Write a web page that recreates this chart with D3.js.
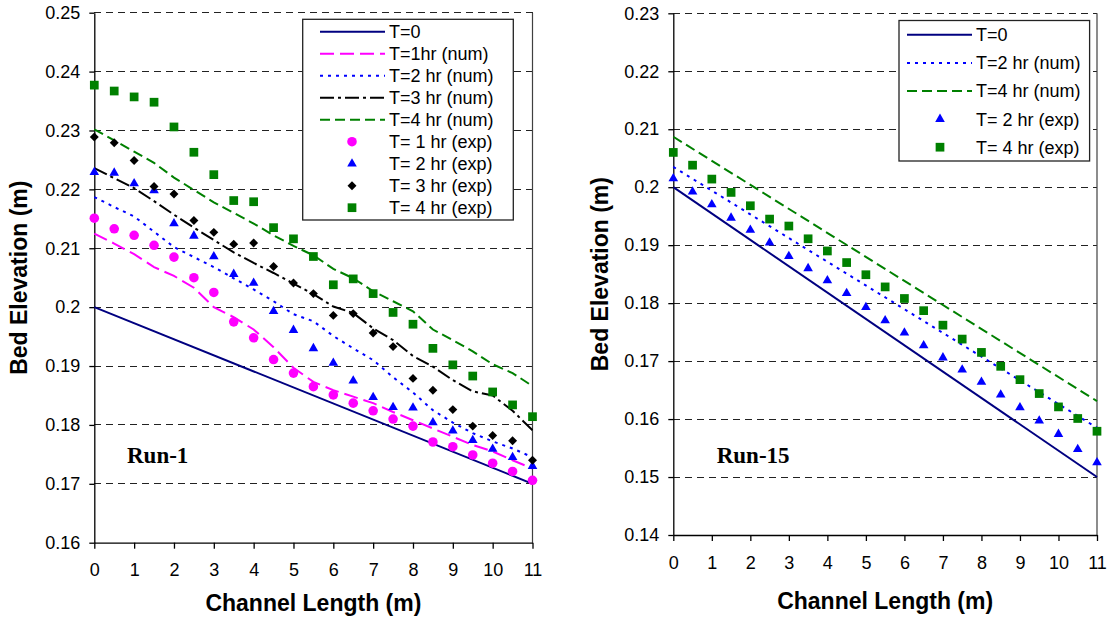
<!DOCTYPE html>
<html lang="en">
<head>
<meta charset="UTF-8">
<title>Bed Elevation - Run-1 and Run-15</title>
<script src="https://d3js.org/d3.v7.min.js"></script>
<style>
  body { margin: 0; background: #fff; }
  svg text { font-family: 'Liberation Sans', Arial, sans-serif; fill: #000; }
</style>
</head>
<body>
<svg id="chart" width="1107" height="619"></svg>
<script>
// measuring stations along the channel (m)
const stations = [0, 0.5, 1, 1.5, 2, 2.5, 3, 3.5, 4, 4.5, 5, 5.5, 6, 6.5, 7, 7.5, 8, 8.5, 9, 9.5, 10, 10.5, 11];
const xTicks = [0, 1, 2, 3, 4, 5, 6, 7, 8, 9, 10, 11];

// ---- Run-1 ----
const run1YTicks = [0.16, 0.17, 0.18, 0.19, 0.20, 0.21, 0.22, 0.23, 0.24, 0.25];
const run1T0x = [0, 11];
const run1T0 = [0.200, 0.170];
const run1Num1 = [0.2125, 0.2108, 0.2090, 0.2068, 0.2053, 0.2033, 0.2000, 0.1983, 0.1962, 0.1932, 0.1897, 0.1873,
                  0.1859, 0.1848, 0.1837, 0.1822, 0.1808, 0.1794, 0.1780, 0.1766, 0.1755, 0.1740, 0.1726];
const run1Num2 = [0.2187, 0.2170, 0.2154, 0.2128, 0.2102, 0.2085, 0.2068, 0.2049, 0.2030, 0.2010, 0.1988, 0.1976,
                  0.1951, 0.1930, 0.1910, 0.1881, 0.1855, 0.1825, 0.1804, 0.1786, 0.1772, 0.1760, 0.1745];
const run1Num3 = [0.2236, 0.2219, 0.2202, 0.2180, 0.2157, 0.2135, 0.2114, 0.2093, 0.2075, 0.2058, 0.2040, 0.2022,
                  0.2001, 0.1990, 0.1964, 0.1944, 0.1917, 0.1899, 0.1876, 0.1857, 0.1850, 0.1824, 0.1791];
const run1Num4 = [0.2302, 0.2283, 0.2264, 0.2245, 0.2220, 0.2199, 0.2178, 0.2160, 0.2142, 0.2122, 0.2104, 0.2088,
                  0.2065, 0.2049, 0.2027, 0.2010, 0.1993, 0.1962, 0.1944, 0.1925, 0.1903, 0.1888, 0.1866];
const run1Exp1 = [0.2151, 0.2133, 0.2122, 0.2105, 0.2085, 0.2050, 0.2025, 0.1975, 0.1948, 0.1911, 0.1888, 0.1865,
                  0.1851, 0.1837, 0.1824, 0.1810, 0.1798, 0.1771, 0.1763, 0.1749, 0.1735, 0.1721, 0.1706];
const run1Exp2 = [0.2229, 0.2228, 0.2210, 0.2198, 0.2142, 0.2121, 0.2086, 0.2056, 0.2041, 0.1993, 0.1961, 0.1930,
                  0.1905, 0.1875, 0.1847, 0.1830, 0.1829, 0.1804, 0.1790, 0.1774, 0.1759, 0.1745, 0.1730];
const run1Exp3 = [0.2289, 0.2279, 0.2249, 0.2205, 0.2192, 0.2147, 0.2127, 0.2107, 0.2109, 0.2069, 0.2041, 0.2023,
                  0.1986, 0.1989, 0.1956, 0.1933, 0.1879, 0.1859, 0.1826, 0.1798, 0.1782, 0.1773, 0.1740];
const run1Exp4 = [0.2377, 0.2367, 0.2357, 0.2348, 0.2306, 0.2263, 0.2225, 0.2181, 0.2179, 0.2135, 0.2116, 0.2086,
                  0.2038, 0.2048, 0.2023, 0.1991, 0.1971, 0.1930, 0.1902, 0.1883, 0.1856, 0.1834, 0.1814];

// ---- Run-15 ----
const run15YTicks = [0.14, 0.15, 0.16, 0.17, 0.18, 0.19, 0.20, 0.21, 0.22, 0.23];
const run15LineX = [0, 11];
const run15T0 = [0.200, 0.150];
const run15Num2 = [0.2035, 0.1585];
const run15Num4 = [0.2087, 0.1631];
const run15Exp2 = [0.2015, 0.1992, 0.1970, 0.1947, 0.1926, 0.1904, 0.1881, 0.1860, 0.1839, 0.1817, 0.1793, 0.1770,
                   0.1749, 0.1727, 0.1706, 0.1685, 0.1664, 0.1642, 0.1620, 0.1597, 0.1574, 0.1548, 0.1525];
const run15Exp4 = [0.2060, 0.2038, 0.2014, 0.1991, 0.1968, 0.1945, 0.1933, 0.1911, 0.1890, 0.1870, 0.1849, 0.1828,
                   0.1808, 0.1787, 0.1762, 0.1738, 0.1715, 0.1691, 0.1668, 0.1644, 0.1621, 0.1601, 0.1579];

// line and marker styles
const styles = {
  t0:   { color: "#000080", dash: null },
  num1: { color: "#ff00ff", dash: "14,6" },
  num2: { color: "#0000ff", dash: "3,5" },
  num3: { color: "#000000", dash: "14,4,3,4" },
  num4: { color: "#008000", dash: "10,5" },
  exp1: { color: "#ff00ff", shape: "circle" },
  exp2: { color: "#0000ff", shape: "triangle" },
  exp3: { color: "#000000", shape: "diamond" },
  exp4: { color: "#008000", shape: "square" }
};

const svg = d3.select("#chart");

function markerPath(shape) {
  if (shape === "circle") return d3.symbol(d3.symbolCircle, 72)();
  if (shape === "triangle") return d3.symbol(d3.symbolTriangle, 40)();
  if (shape === "diamond") return d3.symbol(d3.symbolSquare, 40)();
  return d3.symbol(d3.symbolSquare, 76)();
}

function drawMarker(g, shape, color, cx, cy) {
  g.append("path")
    .attr("d", markerPath(shape))
    .attr("transform", `translate(${cx},${cy})` + (shape === "diamond" ? " rotate(45)" : ""))
    .attr("fill", color);
}

function drawPanel(p) {
  const x = d3.scaleLinear().domain([0, 11]).range([p.left, p.right]);
  const y = d3.scaleLinear().domain([p.yTicks[0], p.yTicks[p.yTicks.length - 1]]).range([p.bottom, p.top]);
  const g = svg.append("g");

  // dashed gridlines
  g.selectAll("line.grid")
    .data(p.yTicks.slice(1))
    .enter().append("line")
    .attr("x1", p.left).attr("x2", p.right)
    .attr("y1", d => y(d)).attr("y2", d => y(d))
    .attr("stroke", "#222").attr("stroke-width", 1)
    .attr("stroke-dasharray", "7,5")
    .attr("shape-rendering", "crispEdges");

  // right border of plot area
  g.append("line")
    .attr("x1", p.right).attr("x2", p.right)
    .attr("y1", p.top).attr("y2", p.bottom)
    .attr("stroke", "#404040").attr("stroke-width", 1.2);

  // axes
  const xAxis = g.append("g")
    .attr("transform", `translate(0,${p.bottom})`)
    .call(d3.axisBottom(x).tickValues(xTicks).tickSize(6).tickSizeOuter(0).tickPadding(15).tickFormat(d3.format("d")));
  const yAxis = g.append("g")
    .attr("transform", `translate(${p.left},0)`)
    .call(d3.axisLeft(y).tickValues(p.yTicks).tickSize(5).tickSizeOuter(0).tickPadding(9)
      .tickFormat(d => String(+d.toFixed(2))));
  [xAxis, yAxis].forEach(a => {
    a.attr("font-size", 18).attr("font-family", "'Liberation Sans', Arial, sans-serif");
    a.selectAll("path, line").attr("stroke", "#000").attr("stroke-width", 1.3);
  });

  // numerical lines
  const line = d3.line().x(d => x(d[0])).y(d => y(d[1]));
  p.lines.forEach(s => {
    const st = styles[s.style];
    g.append("path")
      .datum(s.xs.map((v, i) => [v, s.ys[i]]))
      .attr("d", line)
      .attr("fill", "none")
      .attr("stroke", st.color)
      .attr("stroke-width", 2)
      .attr("stroke-dasharray", st.dash);
  });

  // experimental points
  p.points.forEach(s => {
    const st = styles[s.style];
    s.ys.forEach((v, i) => drawMarker(g, st.shape, st.color, x(stations[i]), y(v)));
  });

  // run label
  g.append("text")
    .attr("x", p.runX).attr("y", 463)
    .style("font-family", "'Liberation Serif', 'Times New Roman', serif")
    .style("font-weight", "bold").style("font-size", "23px")
    .text(p.run);

  // axis titles
  g.append("text")
    .attr("x", (p.left + p.right) / 2).attr("y", p.xTitleY)
    .attr("text-anchor", "middle")
    .style("font-weight", "bold").style("font-size", "23px")
    .text("Channel Length (m)");
  g.append("text")
    .attr("transform", `translate(${p.yTitleX},${(p.top + p.bottom) / 2}) rotate(-90)`)
    .attr("text-anchor", "middle")
    .style("font-weight", "bold").style("font-size", "23px")
    .text("Bed Elevation (m)");

  // legend
  const L = p.legend;
  const lg = g.append("g");
  lg.append("rect")
    .attr("x", L.x).attr("y", L.y).attr("width", L.w).attr("height", L.h)
    .attr("fill", "#fff").attr("stroke", "#222").attr("stroke-width", 1.3);
  L.items.forEach((it, i) => {
    const cy = L.firstRow + i * L.step;
    const st = styles[it.style];
    if (st.shape) {
      drawMarker(lg, st.shape, st.color, L.markX, cy);
    } else {
      lg.append("line")
        .attr("x1", L.lineX0).attr("x2", L.lineX1)
        .attr("y1", cy).attr("y2", cy)
        .attr("stroke", st.color).attr("stroke-width", 2)
        .attr("stroke-dasharray", st.dash);
    }
    lg.append("text")
      .attr("x", L.textX).attr("y", cy).attr("dy", "0.36em")
      .style("font-size", "18px")
      .text(it.label);
  });
}

drawPanel({
  left: 94.3, right: 532.5, top: 12.7, bottom: 542.7,
  yTicks: run1YTicks,
  lines: [
    { style: "t0", xs: run1T0x, ys: run1T0 },
    { style: "num1", xs: stations, ys: run1Num1 },
    { style: "num2", xs: stations, ys: run1Num2 },
    { style: "num3", xs: stations, ys: run1Num3 },
    { style: "num4", xs: stations, ys: run1Num4 }
  ],
  points: [
    { style: "exp1", ys: run1Exp1 },
    { style: "exp2", ys: run1Exp2 },
    { style: "exp3", ys: run1Exp3 },
    { style: "exp4", ys: run1Exp4 }
  ],
  run: "Run-1", runX: 127,
  xTitleY: 611, yTitleX: 27,
  legend: {
    x: 302.7, y: 19.3, w: 210.6, h: 200.7, firstRow: 31.7, step: 22,
    lineX0: 320, lineX1: 385, markX: 352, textX: 389,
    items: [
      { style: "t0", label: "T=0" },
      { style: "num1", label: "T=1hr (num)" },
      { style: "num2", label: "T=2 hr (num)" },
      { style: "num3", label: "T=3 hr (num)" },
      { style: "num4", label: "T=4 hr (num)" },
      { style: "exp1", label: "T= 1 hr (exp)" },
      { style: "exp2", label: "T= 2 hr (exp)" },
      { style: "exp3", label: "T= 3 hr (exp)" },
      { style: "exp4", label: "T= 4 hr (exp)" }
    ]
  }
});

drawPanel({
  left: 673.3, right: 1097, top: 13.3, bottom: 535,
  yTicks: run15YTicks,
  lines: [
    { style: "t0", xs: run15LineX, ys: run15T0 },
    { style: "num2", xs: run15LineX, ys: run15Num2 },
    { style: "num4", xs: run15LineX, ys: run15Num4 }
  ],
  points: [
    { style: "exp2", ys: run15Exp2 },
    { style: "exp4", ys: run15Exp4 }
  ],
  run: "Run-15", runX: 716.7,
  xTitleY: 609, yTitleX: 608,
  legend: {
    x: 899, y: 20.5, w: 190.6, h: 140.5, firstRow: 34.8, step: 28.1,
    lineX0: 907, lineX1: 972, markX: 940, textX: 976,
    items: [
      { style: "t0", label: "T=0" },
      { style: "num2", label: "T=2 hr (num)" },
      { style: "num4", label: "T=4 hr (num)" },
      { style: "exp2", label: "T= 2 hr (exp)" },
      { style: "exp4", label: "T= 4 hr (exp)" }
    ]
  }
});
</script>
</body>
</html>
